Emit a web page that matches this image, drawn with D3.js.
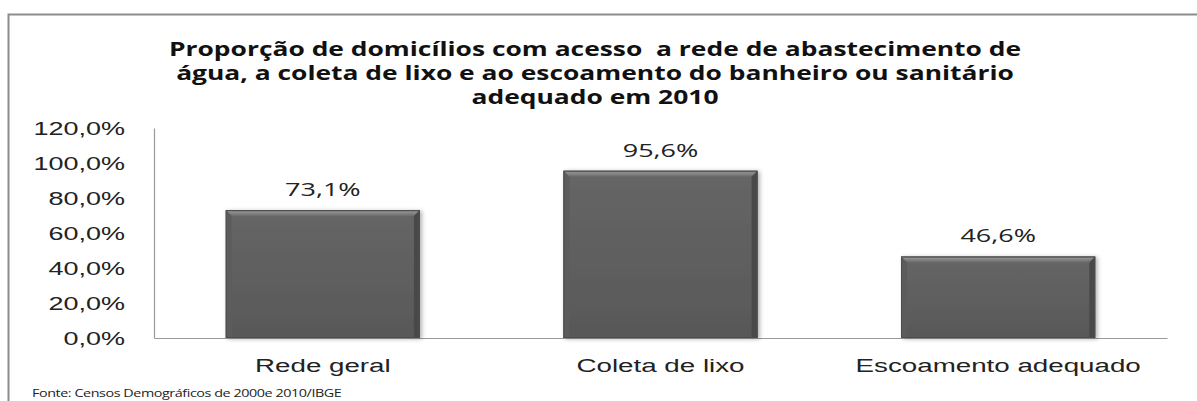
<!DOCTYPE html>
<html>
<head>
<meta charset="utf-8">
<script src="https://cdn.jsdelivr.net/npm/d3@7"></script>
<style>
  body { margin: 0; background: #fff; }
  svg { display: block; font-family: "Open Sans", "Noto Sans", sans-serif; }
  text { white-space: pre; }
</style>
</head>
<body>
<div id="chart"></div>
<script>
// data
var categories = ["Rede geral", "Coleta de lixo", "Escoamento adequado"];
var values = [0.731, 0.956, 0.466];
var yTicks = [0, 0.2, 0.4, 0.6, 0.8, 1.0, 1.2];
var titleLines = [
    "Proporção de domicílios com acesso  a rede de abastecimento de",
    "água, a coleta de lixo e ao escoamento do banheiro ou sanitário",
    "adequado em 2010"
];
var sourceText = "Fonte: Censos Demográficos de 2000e 2010/IBGE";

var width = 1197, height = 401;
var margin = {top: 128, right: 30, bottom: 63, left: 154};
var sx = 1.42; // the original text is stretched sideways

var ptBr = d3.formatLocale({decimal: ",", thousands: ".", grouping: [3], currency: ["R$", ""]});
var pct = ptBr.format(".1%");

var svg = d3.select("#chart").append("svg")
    .attr("width", width)
    .attr("height", height);

var defs = svg.append("defs");
var g1 = defs.append("linearGradient").attr("id", "face").attr("x1", 0).attr("y1", 0).attr("x2", 0).attr("y2", 1);
g1.append("stop").attr("offset", "0%").attr("stop-color", "#666");
g1.append("stop").attr("offset", "100%").attr("stop-color", "#585858");
var g2 = defs.append("linearGradient").attr("id", "bevelTop").attr("x1", 0).attr("y1", 0).attr("x2", 0).attr("y2", 1);
g2.append("stop").attr("offset", "0%").attr("stop-color", "#6e6e6e");
g2.append("stop").attr("offset", "35%").attr("stop-color", "#8e8e8e");
g2.append("stop").attr("offset", "100%").attr("stop-color", "#6a6a6a");
var f = defs.append("filter").attr("id", "shadow").attr("x", "-10%").attr("y", "-10%").attr("width", "130%").attr("height", "130%");
f.append("feDropShadow").attr("dx", 2).attr("dy", 1).attr("stdDeviation", 2).attr("flood-color", "#000").attr("flood-opacity", 0.3);

// frame (only top and left edges show in the crop)
svg.append("path")
    .attr("d", "M8.5," + (height + 2) + "V14.5H" + (width + 2))
    .attr("fill", "none")
    .attr("stroke", "#8c8c8c")
    .attr("stroke-width", 2);

// title
var title = svg.append("g");
titleLines.forEach(function (t, i) {
    title.append("text")
        .attr("transform", "translate(595," + (56 + i * 24) + ") scale(1.39,1)")
        .attr("text-anchor", "middle")
        .attr("font-size", 19)
        .attr("font-weight", "bold")
        .attr("fill", "#111")
        .text(t);
});

var x = d3.scaleBand()
    .domain(categories)
    .range([margin.left, width - margin.right])
    .padding(0);

var y = d3.scaleLinear()
    .domain([0, 1.2])
    .range([height - margin.bottom, margin.top]);

// axes
var yAxis = svg.append("g")
    .attr("transform", "translate(" + margin.left + ",0)")
    .call(d3.axisLeft(y).tickValues(yTicks).tickFormat(pct).tickSize(0).tickPadding(29));
yAxis.select(".domain").attr("stroke", "#9a9a9a").attr("stroke-width", 1.2);
yAxis.selectAll("text")
    .attr("font-size", 19)
    .attr("fill", "#222")
    .attr("font-family", null)
    .attr("x", null)
    .attr("transform", "translate(-29,0) scale(" + sx + ",1)");

var xAxis = svg.append("g")
    .attr("transform", "translate(0," + y(0) + ")")
    .call(d3.axisBottom(x).tickSize(0).tickPadding(21));
xAxis.select(".domain").attr("stroke", "#9a9a9a").attr("stroke-width", 1.2);
xAxis.selectAll("text")
    .attr("font-size", 19)
    .attr("fill", "#222")
    .attr("font-family", null)
    .attr("transform", "scale(1.46,1)");

// bars with a bevel
var barW = x.bandwidth() * 0.575;
var b = 6;
var bars = svg.append("g").selectAll("g.bar")
    .data(values)
    .join("g")
    .attr("class", "bar")
    .attr("filter", "url(#shadow)");

bars.each(function (v, i) {
    var gb = d3.select(this);
    var x0 = x(categories[i]) + (x.bandwidth() - barW) / 2;
    var x1 = x0 + barW;
    var y0 = y(v), y1 = y(0);
    gb.append("rect").attr("x", x0).attr("y", y0).attr("width", barW).attr("height", y1 - y0).attr("fill", "url(#face)");
    gb.append("polygon")
        .attr("points", [[x0, y0], [x1, y0], [x1 - b, y0 + b], [x0 + b, y0 + b]].join(" "))
        .attr("fill", "url(#bevelTop)");
    gb.append("polygon")
        .attr("points", [[x0, y0], [x0 + b, y0 + b], [x0 + b, y1], [x0, y1]].join(" "))
        .attr("fill", "#5c5c5c");
    gb.append("polygon")
        .attr("points", [[x1, y0], [x1 - b, y0 + b], [x1 - b, y1], [x1, y1]].join(" "))
        .attr("fill", "#4a4a4a");
    gb.append("rect").attr("x", x0 + 0.5).attr("y", y0 + 0.5).attr("width", barW - 1).attr("height", y1 - y0 - 1)
        .attr("fill", "none").attr("stroke", "#4e4e4e").attr("stroke-width", 1);
});

// value labels
svg.append("g").selectAll("text")
    .data(values)
    .join("text")
    .attr("transform", function (d, i) {
        return "translate(" + (x(categories[i]) + x.bandwidth() / 2) + "," + (y(d) - 14) + ") scale(" + sx + ",1)";
    })
    .attr("text-anchor", "middle")
    .attr("font-size", 19)
    .attr("fill", "#222")
    .text(function (d) { return pct(d); });

// source note
svg.append("text")
    .attr("transform", "translate(32,397) scale(1.25,1)")
    .attr("font-size", 11.5)
    .attr("fill", "#222")
    .attr("letter-spacing", -0.35)
    .text(sourceText);
</script>
</body>
</html>
